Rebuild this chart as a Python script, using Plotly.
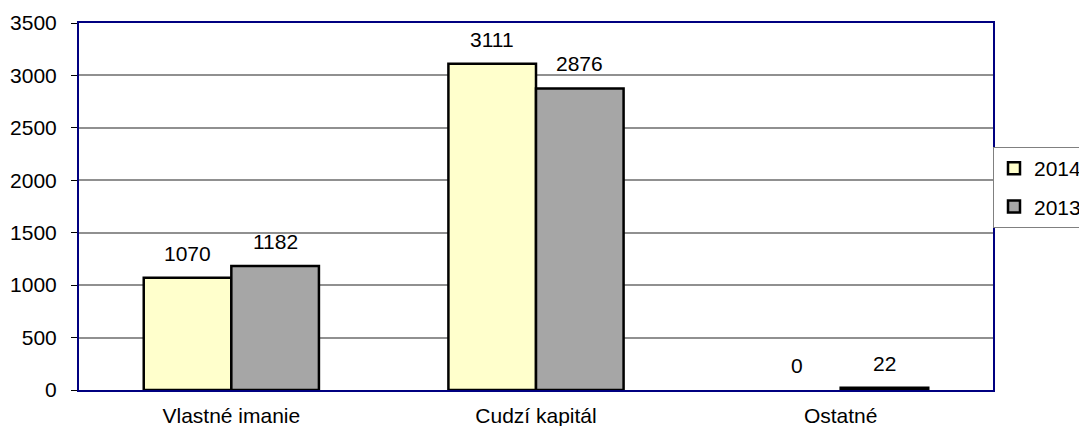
import plotly.graph_objects as go

categories = ["Vlastné imanie", "Cudzí kapitál", "Ostatné"]
series_names = ["2014", "2013"]
values_2014 = [1070, 3111, 0]
values_2013 = [1182, 2876, 22]
y_ticks = [0, 500, 1000, 1500, 2000, 2500, 3000, 3500]

FONT = "Arial, Liberation Sans, sans-serif"
OFF = 8  # page body margin
W, H = 1087 - OFF, 426 - OFF
ML, MR, MT, MB = 79 - OFF, 94, 23 - OFF, 36
BARGAP = 0.425
colors = ["#FFFFCC", "#A6A6A6"]

fig = go.Figure()
for name, vals, col in zip(series_names, [values_2014, values_2013], colors):
    fig.add_trace(go.Bar(
        x=categories, y=vals, name=name, legendgroup=name,
        marker=dict(color=col,
                    line=dict(color="black",
                              width=[2.5 if v else 0 for v in vals])),
    ))

# data labels as annotations above each bar
plot_w = W - ML - MR
bar_px = plot_w / len(categories) * (1 - BARGAP) / 2
for i, vals in enumerate([values_2014, values_2013]):
    shift = (-0.5 if i == 0 else 0.5) * bar_px
    for c, v in zip(categories, vals):
        fig.add_annotation(x=c, y=v, text=str(v), showarrow=False,
                           xanchor="center", yanchor="bottom",
                           xshift=shift, yshift=11,
                           font=dict(family=FONT, size=21, color="black"))

fig.update_layout(
    width=W, height=H,
    margin=dict(l=ML, r=MR, t=MT, b=MB, autoexpand=False),
    paper_bgcolor="white", plot_bgcolor="white",
    barmode="group", bargap=BARGAP, bargroupgap=0,
    font=dict(family=FONT, size=21, color="black"),
    showlegend=True,
    legend=dict(xref="container", yref="container",
                x=(993 - OFF) / W, y=1 - (147 - OFF) / H,
                xanchor="left", yanchor="top",
                bordercolor="#808080", borderwidth=1, bgcolor="white",
                font=dict(family=FONT, size=21, color="black"),
                traceorder="grouped", tracegroupgap=8),
    xaxis=dict(showline=True, linecolor="#000080", linewidth=2, mirror=True,
               ticks="", showgrid=False, ticklabelstandoff=6, automargin=False),
    yaxis=dict(range=[0, 3500], tickvals=y_ticks, showline=True,
               linecolor="#000080", linewidth=2, mirror=True,
               ticks="outside", ticklen=6, tickcolor="black", tickwidth=1,
               showgrid=True, gridcolor="#909090", gridwidth=2,
               ticklabelstandoff=10, zeroline=False, automargin=False),
)

fig.write_html("out.html")
